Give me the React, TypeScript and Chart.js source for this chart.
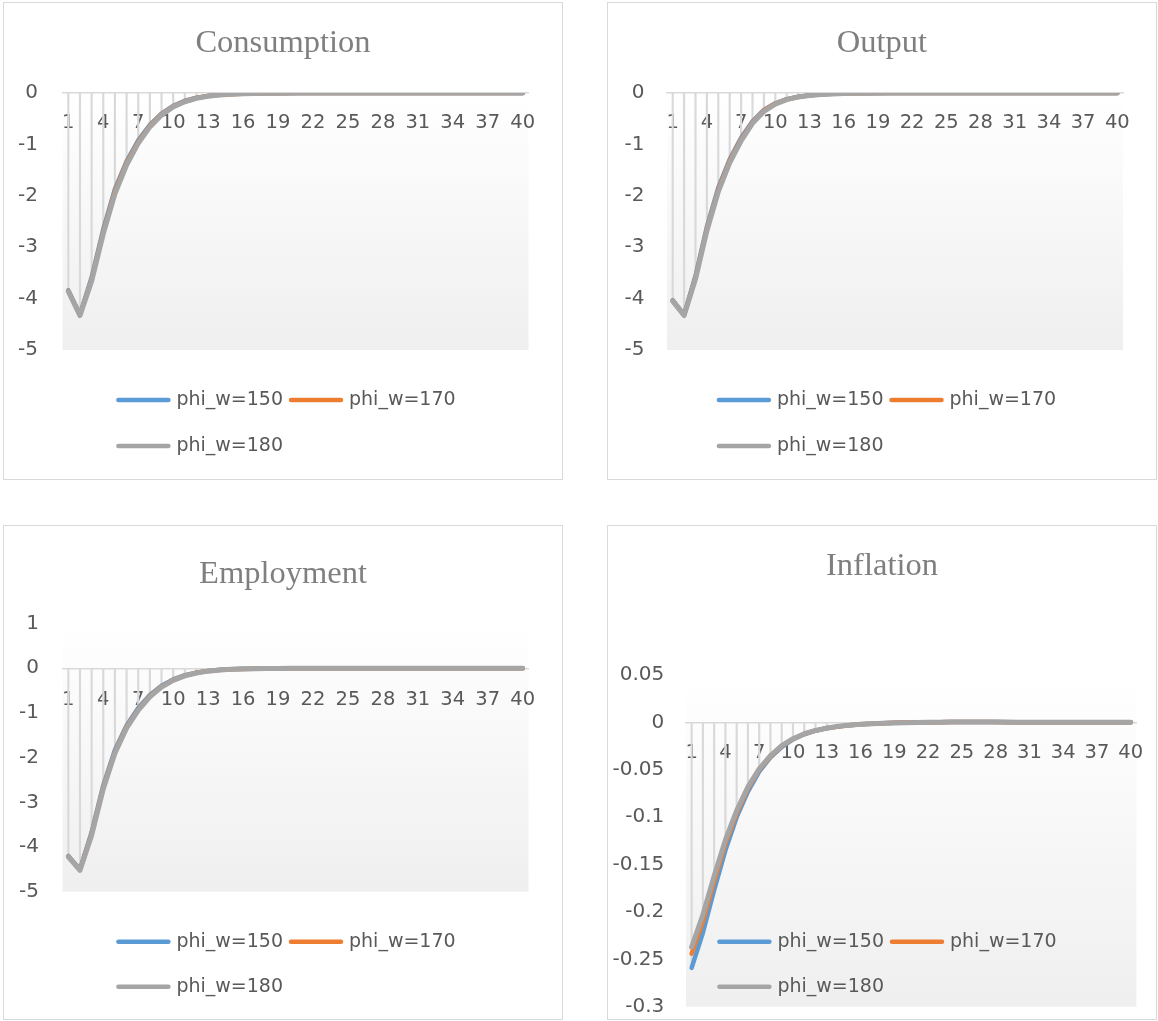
import React, { useEffect, useRef } from 'react';
import { Chart, registerables } from 'chart.js';

Chart.register(...registerables);

// ---------- data ----------
const categories = [
  '1', '2', '3', '4', '5', '6', '7', '8', '9', '10',
  '11', '12', '13', '14', '15', '16', '17', '18', '19', '20',
  '21', '22', '23', '24', '25', '26', '27', '28', '29', '30',
  '31', '32', '33', '34', '35', '36', '37', '38', '39', '40',
];
const shownXTicks = ['1', '4', '7', '10', '13', '16', '19', '22', '25', '28', '31', '34', '37', '40'];
const seriesLabels = ['phi_w=150', 'phi_w=170', 'phi_w=180'];
const seriesColors = ['#5B9BD5', '#ED7D31', '#A5A5A5'];

const consumption150 = [-3.84, -4.31, -3.59, -2.65, -1.87, -1.33, -0.92, -0.62, -0.4, -0.25, -0.15, -0.092, -0.056, -0.033, -0.02, -0.012, -0.007, -0.004, -0.003, -0.002, -0.001, -0.001, -0.001, 0, 0, 0, 0, 0, 0, 0, 0, 0, 0, 0, 0, 0, 0, 0, 0, 0];
const consumption170 = [-3.85, -4.32, -3.63, -2.7, -1.91, -1.36, -0.95, -0.64, -0.41, -0.26, -0.16, -0.098, -0.06, -0.036, -0.022, -0.013, -0.008, -0.005, -0.003, -0.002, -0.002, -0.001, -0.001, -0.001, 0, 0, 0, 0, 0, 0, 0, 0, 0, 0, 0, 0, 0, 0, 0, 0];
const consumption180 = [-3.86, -4.33, -3.66, -2.74, -1.96, -1.4, -0.98, -0.66, -0.43, -0.27, -0.17, -0.105, -0.064, -0.039, -0.024, -0.015, -0.009, -0.006, -0.004, -0.003, -0.002, -0.002, -0.001, -0.001, -0.001, -0.001, 0, 0, 0, 0, 0, 0, 0, 0, 0, 0, 0, 0, 0, 0];

const output150 = [-4.03, -4.31, -3.56, -2.6, -1.84, -1.29, -0.87, -0.55, -0.33, -0.2, -0.12, -0.074, -0.044, -0.026, -0.016, -0.01, -0.006, -0.004, -0.002, -0.001, -0.001, 0, 0, 0, 0, 0, 0, 0, 0, 0, 0, 0, 0, 0, 0, 0, 0, 0, 0, 0];
const output170 = [-4.04, -4.32, -3.59, -2.64, -1.88, -1.32, -0.9, -0.57, -0.34, -0.205, -0.125, -0.077, -0.046, -0.028, -0.017, -0.011, -0.007, -0.004, -0.002, -0.001, -0.001, -0.001, 0, 0, 0, 0, 0, 0, 0, 0, 0, 0, 0, 0, 0, 0, 0, 0, 0, 0];
const output180 = [-4.05, -4.33, -3.62, -2.68, -1.92, -1.36, -0.93, -0.59, -0.36, -0.215, -0.13, -0.08, -0.048, -0.029, -0.018, -0.011, -0.007, -0.004, -0.003, -0.002, -0.001, -0.001, 0, 0, 0, 0, 0, 0, 0, 0, 0, 0, 0, 0, 0, 0, 0, 0, 0, 0];

const employment150 = [-4.2, -4.5, -3.67, -2.62, -1.83, -1.28, -0.89, -0.6, -0.39, -0.25, -0.155, -0.096, -0.058, -0.035, -0.021, -0.013, -0.008, -0.005, -0.003, -0.002, -0.001, -0.001, 0, 0, 0, 0, 0, 0, 0, 0, 0, 0, 0, 0, 0, 0, 0, 0, 0, 0];
const employment170 = [-4.21, -4.51, -3.7, -2.66, -1.87, -1.31, -0.92, -0.62, -0.41, -0.26, -0.163, -0.1, -0.061, -0.037, -0.023, -0.014, -0.008, -0.005, -0.003, -0.002, -0.001, -0.001, 0, 0, 0, 0, 0, 0, 0, 0, 0, 0, 0, 0, 0, 0, 0, 0, 0, 0];
const employment180 = [-4.22, -4.52, -3.74, -2.7, -1.9, -1.34, -0.94, -0.64, -0.42, -0.27, -0.17, -0.105, -0.064, -0.039, -0.024, -0.015, -0.009, -0.005, -0.003, -0.002, -0.001, -0.001, -0.001, 0, 0, 0, 0, 0, 0, 0, 0, 0, 0, 0, 0, 0, 0, 0, 0, 0];

const inflation150 = [-0.259, -0.222, -0.177, -0.135, -0.1, -0.073, -0.052, -0.037, -0.026, -0.018, -0.0125, -0.0088, -0.0062, -0.0043, -0.003, -0.002, -0.0014, -0.0009, -0.0005, -0.0002, 0, 0.0001, 0.0002, 0.0003, 0.0003, 0.0003, 0.0003, 0.0003, 0.0002, 0.0002, 0.0002, 0.0002, 0.0002, 0.0001, 0.0001, 0.0001, 0.0001, 0.0001, 0.0001, 0.0001];
const inflation170 = [-0.244, -0.21, -0.168, -0.128, -0.096, -0.07, -0.05, -0.036, -0.025, -0.0176, -0.0123, -0.0087, -0.0061, -0.0043, -0.003, -0.002, -0.0014, -0.0009, -0.0005, -0.0002, 0, 0.0001, 0.0002, 0.0003, 0.0003, 0.0003, 0.0003, 0.0003, 0.0002, 0.0002, 0.0002, 0.0002, 0.0002, 0.0001, 0.0001, 0.0001, 0.0001, 0.0001, 0.0001, 0.0001];
const inflation180 = [-0.237, -0.203, -0.162, -0.124, -0.093, -0.068, -0.049, -0.035, -0.0245, -0.0172, -0.012, -0.0085, -0.006, -0.0042, -0.0029, -0.002, -0.0014, -0.0009, -0.0006, -0.0003, -0.0001, 0.0001, 0.0002, 0.0003, 0.0003, 0.0003, 0.0003, 0.0003, 0.0003, 0.0002, 0.0002, 0.0002, 0.0002, 0.0002, 0.0001, 0.0001, 0.0001, 0.0001, 0.0001, 0.0001];

const levelTicks = [-5, -4, -3, -2, -1, 0];
const levelTickLabels = ['-5', '-4', '-3', '-2', '-1', '0'];
const employmentTicks = [-5, -4, -3, -2, -1, 0, 1];
const employmentTickLabels = ['-5', '-4', '-3', '-2', '-1', '0', '1'];
const inflationTicks = [-0.3, -0.25, -0.2, -0.15, -0.1, -0.05, 0, 0.05];
const inflationTickLabels = ['-0.3', '-0.25', '-0.2', '-0.15', '-0.1', '-0.05', '0', '0.05'];

// ---------- layout (page pixels) ----------
type Spec = {
  title: string;
  series: number[][];
  yTicks: number[];
  yTickLabels: string[];
  box: { left: number; top: number; width: number; height: number };
  titleY: number;
  plot: { top: number; bottom: number; left: number; right: number };
  yLabelRight: number;
  xLabelOffset: number;
  legendRows: [number, number];
  legendCenterX: number;
};

const specs: Spec[] = [
  {
    title: 'Consumption',
    series: [consumption150, consumption170, consumption180],
    yTicks: levelTicks, yTickLabels: levelTickLabels,
    box: { left: 3, top: 2, width: 560, height: 478 },
    titleY: 43,
    plot: { top: 93, bottom: 350, left: 62.5, right: 528.5 },
    yLabelRight: 38, xLabelOffset: 30,
    legendRows: [400, 446], legendCenterX: 286,
  },
  {
    title: 'Output',
    series: [output150, output170, output180],
    yTicks: levelTicks, yTickLabels: levelTickLabels,
    box: { left: 607, top: 2, width: 550, height: 478 },
    titleY: 43,
    plot: { top: 93, bottom: 350, left: 667, right: 1123 },
    yLabelRight: 644.5, xLabelOffset: 30,
    legendRows: [400, 446], legendCenterX: 886.5,
  },
  {
    title: 'Employment',
    series: [employment150, employment170, employment180],
    yTicks: employmentTicks, yTickLabels: employmentTickLabels,
    box: { left: 3, top: 525, width: 560, height: 495 },
    titleY: 574,
    plot: { top: 623.6, bottom: 891.7, left: 62.5, right: 528.5 },
    yLabelRight: 39, xLabelOffset: 31.5,
    legendRows: [941.7, 986.7], legendCenterX: 286,
  },
  {
    title: 'Inflation',
    series: [inflation150, inflation170, inflation180],
    yTicks: inflationTicks, yTickLabels: inflationTickLabels,
    box: { left: 607, top: 525, width: 550, height: 495 },
    titleY: 566.7,
    plot: { top: 675, bottom: 1006.7, left: 686, right: 1136.4 },
    yLabelRight: 664.3, xLabelOffset: 30.6,
    legendRows: [941.7, 986.7], legendCenterX: 887,
  },
];

const TEXT_COLOR = '#595959';
const GRID_COLOR = '#d9d9d9';
const SANS = "'DejaVu Sans'";
const TITLE_SIZE = 32.5;
const X_TICK_SIZE = 19.5;
const Y_TICK_SIZE = 20;
const LEGEND_SIZE = 19;

const plotBackground = {
  id: 'plotBackground',
  beforeDraw(chart: any) {
    const { ctx, chartArea } = chart;
    if (!chartArea) return;
    const g = ctx.createLinearGradient(0, chartArea.top, 0, chartArea.bottom);
    g.addColorStop(0, '#ffffff');
    g.addColorStop(1, '#efefef');
    ctx.save();
    ctx.fillStyle = g;
    ctx.fillRect(chartArea.left, chartArea.top, chartArea.right - chartArea.left, chartArea.bottom - chartArea.top);
    ctx.restore();
  },
};

const excelLegend = {
  id: 'excelLegend',
  afterDraw(chart: any, _args: any, opts: any) {
    const { ctx } = chart;
    const items = chart.data.datasets.filter((d: any) => d.type === 'line');
    ctx.save();
    ctx.font = `${LEGEND_SIZE}px ${SANS}`;
    ctx.textBaseline = 'middle';
    ctx.textAlign = 'left';
    const sample = 54;
    const gap = 6;
    const itemGap = 6;
    const widths = items.map((d: any) => sample + gap + ctx.measureText(d.label).width);
    const row1 = widths[0] + itemGap + widths[1];
    const startX = opts.centerX - row1 / 2;
    const pos = [
      [startX, opts.rows[0]],
      [startX + widths[0] + itemGap, opts.rows[0]],
      [startX, opts.rows[1]],
    ];
    items.forEach((d: any, i: number) => {
      const [x, y] = pos[i];
      ctx.beginPath();
      ctx.lineCap = 'round';
      ctx.lineWidth = 4.5;
      ctx.strokeStyle = d.borderColor;
      ctx.moveTo(x + 2, y);
      ctx.lineTo(x + sample - 2, y);
      ctx.stroke();
      ctx.fillStyle = TEXT_COLOR;
      ctx.fillText(d.label, x + sample + gap, y);
    });
    ctx.restore();
  },
};

function buildConfig(s: Spec): any {
  const ox = s.box.left + 1;
  const oy = s.box.top + 1;
  const cw = s.box.width - 2;
  const ch = s.box.height - 2;
  const titleH = TITLE_SIZE * 1.2;
  const padTop = s.titleY - oy - titleH / 2;
  const titlePadBottom = s.plot.top - oy - padTop - titleH;
  const chartLeft = s.plot.left - ox;
  const rightSpace = cw - (s.plot.right - ox);
  const padBottom = ch - (s.plot.bottom - oy);
  const yTickPad = chartLeft - (s.yLabelRight - ox);
  const xTickPad = s.xLabelOffset - (X_TICK_SIZE * 1.2) / 2;

  const lines = s.series.map((data, i) => ({
    type: 'line',
    label: seriesLabels[i],
    data,
    borderColor: seriesColors[i],
    backgroundColor: seriesColors[i],
    borderWidth: i === 2 ? 5 : 4.5,
    pointRadius: 0,
    pointHoverRadius: 0,
    tension: 0,
    borderCapStyle: 'round',
    borderJoinStyle: 'round',
    fill: false,
    order: 3 - i,
  }));
  const dropLines = {
    type: 'bar',
    label: 'drop lines',
    data: categories.map((_, k) => [0, Math.min(...s.series.map((ser) => ser[k]))]),
    backgroundColor: GRID_COLOR,
    borderWidth: 0,
    barThickness: 1.5,
    order: 10,
  };

  const zeroPads = (scale: any) => {
    scale.paddingLeft = 0;
    scale.paddingRight = 0;
    scale.paddingTop = 0;
    scale.paddingBottom = 0;
  };

  return {
    type: 'line',
    data: { labels: categories, datasets: [...lines, dropLines] },
    plugins: [plotBackground, excelLegend],
    options: {
      animation: false,
      responsive: false,
      devicePixelRatio: 1,
      events: [],
      layout: { padding: { top: padTop, left: 0, right: 0, bottom: padBottom } },
      plugins: {
        legend: { display: false },
        tooltip: { enabled: false },
        title: {
          display: true,
          text: s.title,
          color: '#7f7f7f',
          font: { family: "'Liberation Serif'", size: TITLE_SIZE, weight: 'normal', lineHeight: 1.2 },
          padding: { top: 0, bottom: titlePadBottom },
        },
        excelLegend: { rows: [s.legendRows[0] - oy, s.legendRows[1] - oy], centerX: s.legendCenterX - ox },
      },
      scales: {
        x: {
          type: 'category',
          offset: true,
          position: { y: 0 },
          grid: { display: false, drawTicks: false },
          border: { display: true, color: GRID_COLOR, width: 1.5 },
          ticks: {
            autoSkip: false,
            maxRotation: 0,
            minRotation: 0,
            padding: xTickPad,
            color: TEXT_COLOR,
            font: { family: SANS, size: X_TICK_SIZE },
            callback: (_v: any, idx: number) => (shownXTicks.includes(categories[idx]) ? categories[idx] : ''),
          },
          afterFit: (scale: any) => {
            scale.height = 0;
            zeroPads(scale);
          },
        },
        y: {
          type: 'linear',
          position: 'left',
          min: s.yTicks[0],
          max: s.yTicks[s.yTicks.length - 1],
          grid: { display: false, drawTicks: false },
          border: { display: false },
          afterBuildTicks: (axis: any) => { axis.ticks = s.yTicks.map((v) => ({ value: v })); },
          ticks: {
            padding: yTickPad,
            color: TEXT_COLOR,
            font: { family: SANS, size: Y_TICK_SIZE },
            callback: (_v: any, idx: number) => s.yTickLabels[idx],
          },
          afterFit: (scale: any) => {
            scale.width = chartLeft;
            zeroPads(scale);
          },
        },
        // empty right-hand spacer axis so the plot ends where the reference's does
        spacer: {
          type: 'linear',
          position: 'right',
          display: true,
          grid: { display: false, drawTicks: false },
          border: { display: false },
          ticks: { display: false },
          afterFit: (scale: any) => {
            scale.width = rightSpace;
            zeroPads(scale);
          },
        },
      },
    },
  };
}

function Panel({ spec }: { spec: Spec }) {
  const ref = useRef<HTMLCanvasElement | null>(null);
  useEffect(() => {
    if (!ref.current) return;
    const chart = new Chart(ref.current, buildConfig(spec));
    return () => chart.destroy();
  }, [spec]);
  const w = spec.box.width - 2;
  const h = spec.box.height - 2;
  return (
    <div
      style={{
        position: 'absolute',
        left: spec.box.left,
        top: spec.box.top,
        width: spec.box.width,
        height: spec.box.height,
        border: '1px solid #d9d9d9',
        boxSizing: 'border-box',
        background: '#ffffff',
      }}
    >
      <canvas ref={ref} width={w} height={h} style={{ display: 'block', width: w, height: h }} />
    </div>
  );
}

export default function App() {
  return (
    <div style={{ position: 'fixed', left: 0, top: 0, width: 1158, height: 1021, background: '#ffffff', overflow: 'hidden' }}>
      {specs.map((s) => (
        <Panel key={s.title} spec={s} />
      ))}
    </div>
  );
}
